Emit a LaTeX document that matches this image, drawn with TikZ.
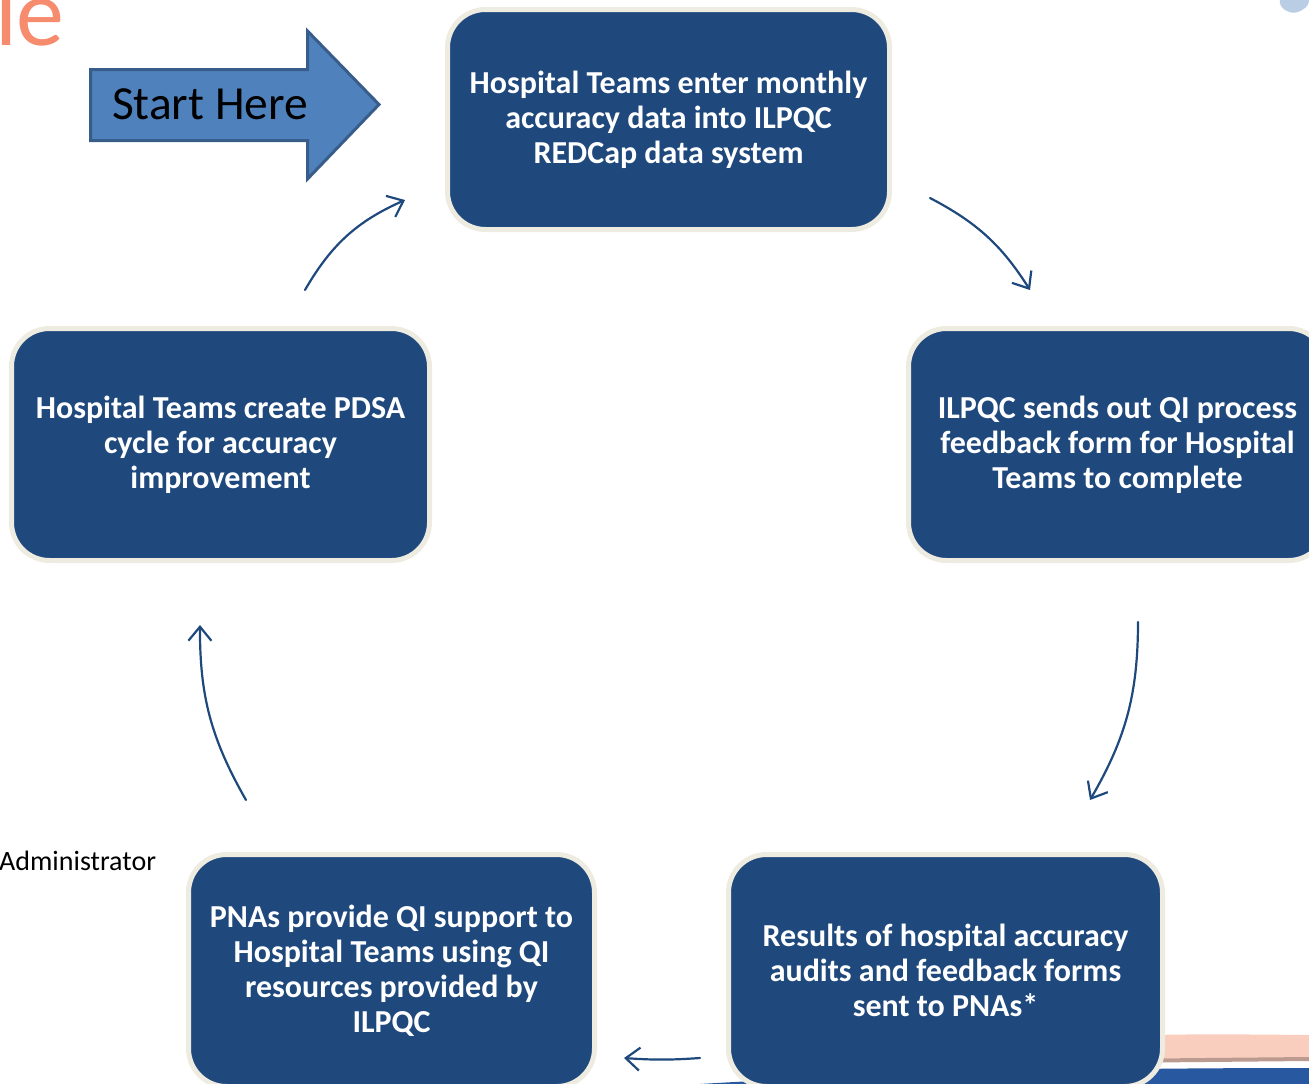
\documentclass[tikz,border=0pt]{standalone}
\usepackage{fontspec}
\setmainfont{Carlito}
\usetikzlibrary{arrows.meta}
\definecolor{boxblue}{HTML}{1F497D}
\definecolor{boxrim}{HTML}{EEECE1}
\definecolor{startfill}{HTML}{4F81BD}
\definecolor{startrim}{HTML}{385D8A}
\definecolor{titleorange}{RGB}{246,139,110}
\definecolor{peach}{RGB}{250,206,190}
\definecolor{stripeblue}{RGB}{40,88,160}
\tikzset{
  stepbox/.style={draw=boxrim, line width=5pt, fill=boxblue, rounded corners=38pt,
    text=white, align=center, font=\fontsize{32}{35}\selectfont\bfseries,
    minimum width=418pt, minimum height=232pt, inner sep=0pt},
  flow/.style={draw=boxblue, line width=2.2pt, line cap=round,
    -{Straight Barb[length=14pt,width=23pt,line width=2.2pt]}},
}
\begin{document}
\begin{tikzpicture}[x=1pt,y=-1pt]
\useasboundingbox (0,0) rectangle (1309,1084);
\clip (0,0) rectangle (1309,1084);
% background decorations
\fill[peach] (1100,1036) .. controls (1200,1034) .. (1309,1035) -- (1309,1058) .. controls (1200,1058) .. (1100,1060) -- cycle;
\fill[black!25!peach] (1100,1059) -- (1309,1057) -- (1309,1061) -- (1100,1063) -- cycle;
\fill[stripeblue] (700,1084) .. controls (900,1072) and (1100,1068) .. (1309,1068) -- (1309,1084) -- cycle;
\fill[startfill!40!white] (1280,0) .. controls (1278,8) and (1290,15) .. (1298,12) .. controls (1305,9) and (1309,6) .. (1309,0) -- cycle;
% partial title
\node[anchor=base east, text=titleorange, font=\fontsize{96}{100}\selectfont, inner sep=0pt] (title) at (65,45) {le};
% side label
\node[anchor=base west, font=\fontsize{28}{32}\selectfont, inner sep=0pt] (admin) at (-1,870) {Administrator};
% start arrow
\draw[startrim, line width=3pt, fill=startfill, line join=miter]
  (90.5,69.5) -- (307.5,69.5) -- (307.5,31) -- (379,104.5) -- (307.5,179) -- (307.5,140.5) -- (90.5,140.5) -- cycle;
\node[font=\fontsize{47.5}{50}\selectfont, inner sep=0pt] (start) at (210,104) {Start Here};
% boxes
\node[stepbox, minimum width=442pt, minimum height=220pt] (top) at (668.5,119.5)
  {Hospital Teams enter monthly\\accuracy data into ILPQC\\REDCap data system};
\node[stepbox] (right) at (1117.5,444.5)
  {ILPQC sends out QI process\\feedback form for Hospital\\Teams to complete};
\node[stepbox, minimum width=434pt] (bright) at (945.5,970.5)
  {Results of hospital accuracy\\audits and feedback forms\\sent to PNAs*};
\node[stepbox, minimum width=406pt] (bleft) at (391.5,970.5)
  {PNAs provide QI support to\\Hospital Teams using QI\\resources provided by\\ILPQC};
\node[stepbox] (left) at (220.5,444.5)
  {Hospital Teams create PDSA\\cycle for accuracy\\improvement};
% connector end points
\coordinate (a1s) at (305,290); \coordinate (a1e) at (405,200);
\coordinate (a2s) at (930,198); \coordinate (a2e) at (1030,290);
\coordinate (a3s) at (1138,622); \coordinate (a3e) at (1090,800);
\coordinate (a4s) at (700,1058); \coordinate (a4e) at (624,1058);
\coordinate (a5s) at (246,800); \coordinate (a5e) at (200,625);
\draw[flow] (a1s) to[bend left=18] (a1e);
\draw[flow] (a2s) to[bend left=15] (a2e);
\draw[flow] (a3s) to[bend left=15] (a3e);
\draw[flow] (a4s) to[bend left=4] (a4e);
\draw[flow] (a5s) to[bend left=15] (a5e);
\end{tikzpicture}
\end{document}
